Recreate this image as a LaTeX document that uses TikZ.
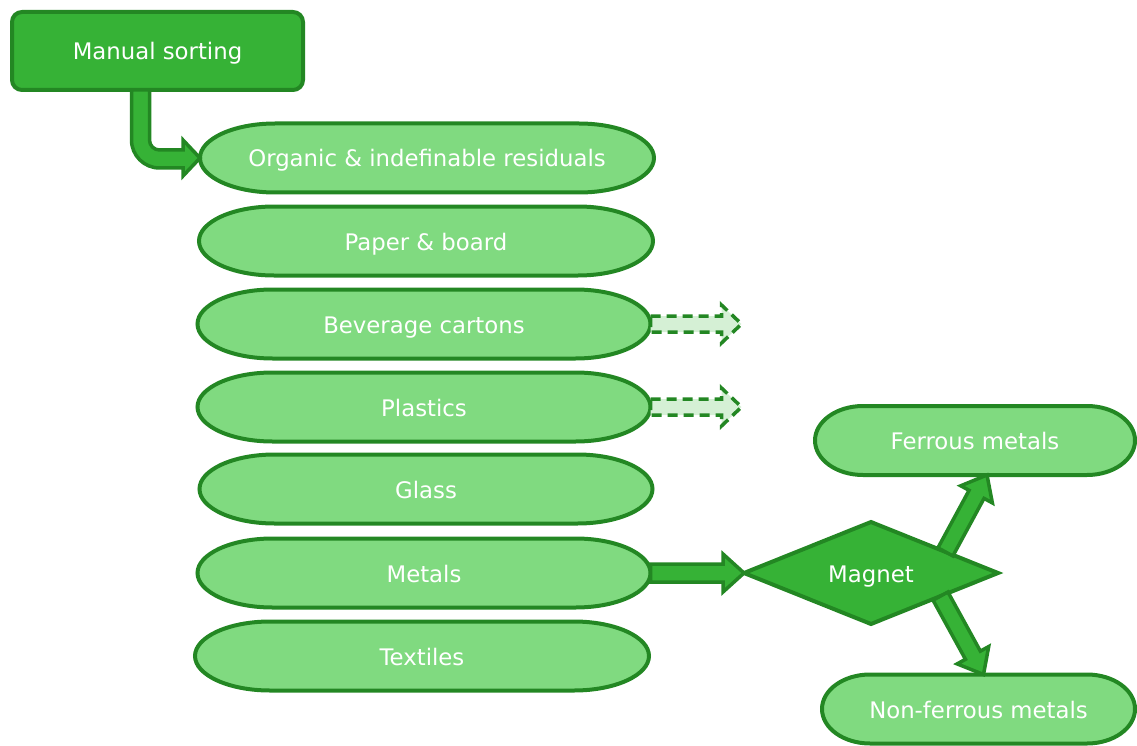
\documentclass[tikz,border=0pt]{standalone}
\usepackage{fontspec}
\setmainfont{DejaVu Sans}
\usetikzlibrary{calc,shapes.geometric}

\definecolor{midgreen}{RGB}{54,178,54}
\definecolor{darkgreen}{RGB}{35,135,35}
\definecolor{lightgreen}{RGB}{128,218,128}
\definecolor{palegreen}{RGB}{213,240,213}

\pgfdeclarelayer{bg}
\pgfsetlayers{bg,main}

\tikzset{
  labeltext/.style={text=white, font=\fontsize{22.8}{27}\selectfont,
    text height=18pt, text depth=0pt},
  processbox/.style={rectangle, rounded corners=10pt, draw=darkgreen, fill=midgreen,
    line width=4pt, outer sep=0pt, inner sep=0pt, labeltext},
  pillnode/.style={rectangle, draw=none, outer sep=0pt, inner sep=0pt,
    minimum height=69pt, minimum width=#1, labeltext},
  pillborder/.style={draw=darkgreen, fill=lightgreen, line width=4pt},
  decision/.style={diamond, aspect=2.4, minimum width=254pt, minimum height=102pt,
    inner sep=0pt, outer sep=0pt, draw=darkgreen, fill=midgreen, line width=4pt, labeltext},
  solidarrow/.style={draw=darkgreen, fill=midgreen, line width=3.5pt, line join=miter},
  dashedarrow/.style={draw=darkgreen, fill=palegreen, line width=3.5pt, line join=miter,
    dash pattern=on 10pt off 6pt},
}

% stadium outline with elliptical ends around a rectangular node
% #1 node name, #2 horizontal radius of the ends
\newcommand\drawpill[2]{%
  \draw[pillborder] let \p1=(#1.north east), \p2=(#1.south west), \n1={(\y1-\y2)/2} in
    (\x2+#2,\y1) -- (\x1-#2,\y1)
    arc[start angle=90, end angle=-90, x radius=#2, y radius=\n1]
    -- (\x2+#2,\y2)
    arc[start angle=270, end angle=90, x radius=#2, y radius=\n1] -- cycle;}

% straight block arrow: [style] start, tip, half shaft width, half head width, head length
\newcommand\blockarrow[6][solidarrow]{%
  \coordinate (ba-h) at ($(#3)!#6!(#2)$);
  \draw[#1] ($(#2)!#4!90:(#3)$) -- ($(ba-h)!#4!-90:(#2)$) -- ($(ba-h)!#5!-90:(#2)$)
    -- (#3) -- ($(ba-h)!#5!90:(#2)$) -- ($(ba-h)!#4!90:(#2)$)
    -- ($(#2)!#4!-90:(#3)$) -- cycle;}

\begin{document}
\begin{tikzpicture}[x=1pt, y=1pt]
\useasboundingbox (0,0) rectangle (1137,-746);

% process box
\node[processbox, minimum width=291pt, minimum height=78pt] (ms) at (157.5,-51) {Manual sorting};

% sorted fractions
\node[pillnode=454pt] (org)    at (427,-158) {Organic \& indefinable residuals};
\node[pillnode=454pt] (paper)  at (426,-241) {Paper \& board};
\node[pillnode=453pt] (bev)    at (424,-324) {Beverage cartons};
\node[pillnode=453pt] (pla)    at (424,-407) {Plastics};
\node[pillnode=453pt] (glass)  at (426,-489) {Glass};
\node[pillnode=453pt] (metals) at (424,-573) {Metals};
\node[pillnode=454pt] (tex)    at (422,-656) {Textiles};

% magnetic separation
\node[decision] (magnet) at (871,-573) {Magnet};
\node[pillnode=320pt] (ferrous) at (975,-440.5) {Ferrous metals};
\node[pillnode=313pt] (nonfer)  at (978.5,-709) {Non-ferrous metals};

\begin{pgfonlayer}{bg}
  \drawpill{org}{75pt}
  \drawpill{paper}{75pt}
  \drawpill{bev}{75pt}
  \drawpill{pla}{75pt}
  \drawpill{glass}{75pt}
  \drawpill{metals}{75pt}
  \drawpill{tex}{75pt}
  \drawpill{ferrous}{48pt}
  \drawpill{nonfer}{48pt}
\end{pgfonlayer}

% bent arrow from the sorting box to the first fraction
\draw[solidarrow] let \p1=($(ms.south)+(-16pt,0)$), \p2=(org.west) in
  (\x1-10pt,\y1) -- (\x1-10pt,\y2+18pt)
  arc[start angle=180, end angle=270, radius=28pt]
  -- (\x2-17pt,\y2-10pt) -- (\x2-17pt,\y2-18pt) -- (\p2)
  -- (\x2-17pt,\y2+18pt) -- (\x2-17pt,\y2+8pt) -- (\x1+18pt,\y2+8pt)
  arc[start angle=270, end angle=180, radius=10pt]
  -- (\x1+8pt,\y1) -- cycle;

% outgoing streams
\coordinate (bevout) at ($(bev.east)+(91pt,0)$);
\coordinate (plaout) at ($(pla.east)+(91pt,0)$);
\blockarrow[dashedarrow]{bev.east}{bevout}{8pt}{19pt}{20pt}
\blockarrow[dashedarrow]{pla.east}{plaout}{8pt}{19pt}{20pt}

\blockarrow{metals.east}{magnet.west}{9pt}{19pt}{21pt}

\coordinate (fe-start) at ($(magnet.north)!0.586!(magnet.east)$);
\coordinate (fe-tip)   at ($(ferrous.south)+(12pt,0)$);
\blockarrow{fe-start}{fe-tip}{8.5pt}{18pt}{22pt}

\coordinate (nf-start) at ($(magnet.south)!0.547!(magnet.east)$);
\coordinate (nf-tip)   at ($(nonfer.north)+(5pt,0)$);
\blockarrow{nf-start}{nf-tip}{8.5pt}{18pt}{22pt}
\end{tikzpicture}
\end{document}
